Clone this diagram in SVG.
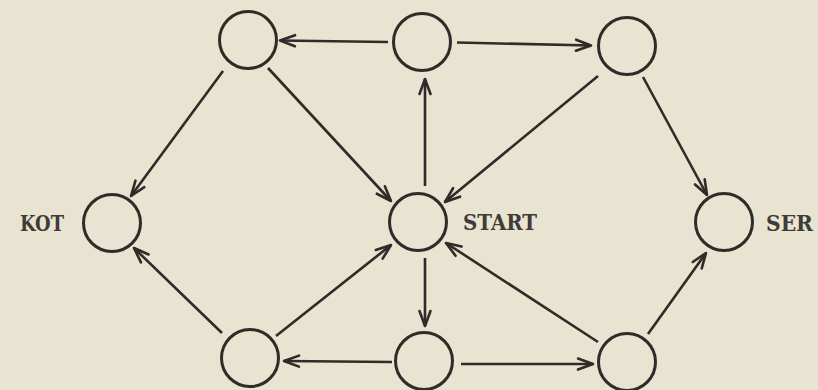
<svg xmlns="http://www.w3.org/2000/svg" width="818" height="390" viewBox="0 0 818 390">
<defs>
<marker id="ah" markerUnits="userSpaceOnUse" markerWidth="20" markerHeight="16" viewBox="-16 -8 18 16" refX="0" refY="0" orient="auto">
<path d="M-15,-5.5 L0,0 L-15,5.5" fill="none" stroke="#2e2b28" stroke-width="2.6" stroke-linecap="round" stroke-linejoin="round"/>
</marker>
</defs>
<style>
.n{fill:none;stroke:#2e2b28;stroke-width:3}
.e{stroke:#2e2b28;stroke-width:2.6;fill:none;marker-end:url(#ah)}
.t{font-family:"DejaVu Serif","Liberation Serif",serif;font-weight:bold;font-size:23px;fill:#3f3b36}
</style>
<rect width="818" height="390" fill="#e9e3d1"/>
<g id="connectors">
<line class="e" x1="388" y1="42" x2="280" y2="40.5"/>
<line class="e" x1="457" y1="42.5" x2="591" y2="45.5"/>
<line class="e" x1="223" y1="71" x2="131" y2="196"/>
<line class="e" x1="268" y1="68" x2="391" y2="201"/>
<line class="e" x1="425" y1="186" x2="425" y2="79"/>
<line class="e" x1="598" y1="76" x2="445" y2="202"/>
<line class="e" x1="643" y1="77" x2="707" y2="195"/>
<line class="e" x1="222" y1="333" x2="134" y2="248"/>
<line class="e" x1="276" y1="336" x2="391" y2="245"/>
<line class="e" x1="425" y1="258" x2="425" y2="326"/>
<line class="e" x1="392" y1="362" x2="284" y2="361"/>
<line class="e" x1="461" y1="364" x2="593" y2="364"/>
<line class="e" x1="598" y1="342" x2="446" y2="243"/>
<line class="e" x1="648" y1="334" x2="706" y2="253"/>
</g>
<g id="n-tl"><circle class="n" cx="248" cy="40" r="28.5"/></g>
<g id="n-tm"><circle class="n" cx="422" cy="42" r="28.5"/></g>
<g id="n-tr"><circle class="n" cx="627" cy="46" r="28.5"/></g>
<g id="n-kot"><circle class="n" cx="112" cy="223" r="28.5"/><text class="t" x="20" y="231" textLength="44" lengthAdjust="spacingAndGlyphs">KOT</text></g>
<g id="n-start"><circle class="n" cx="418" cy="222" r="28.5"/><text class="t" x="463" y="230" textLength="74" lengthAdjust="spacingAndGlyphs">START</text></g>
<g id="n-ser"><circle class="n" cx="724" cy="222" r="28.5"/><text class="t" x="766" y="231" textLength="47" lengthAdjust="spacingAndGlyphs">SER</text></g>
<g id="n-bl"><circle class="n" cx="250" cy="358" r="28.5"/></g>
<g id="n-bm"><circle class="n" cx="424" cy="361" r="28.5"/></g>
<g id="n-br"><circle class="n" cx="627" cy="362" r="28.5"/></g>
</svg>
